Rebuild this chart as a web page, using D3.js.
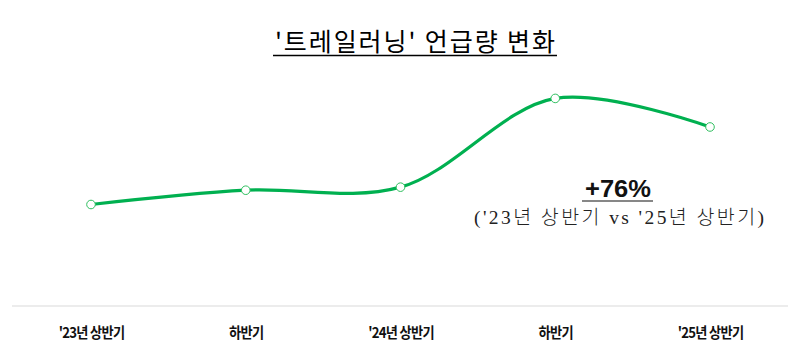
<!DOCTYPE html>
<html>
<head>
<meta charset="utf-8">
<script src="https://cdn.jsdelivr.net/npm/d3@7/dist/d3.min.js"></script>
<style>
  html, body { margin: 0; padding: 0; background: #fff; }
  svg { display: block; }
</style>
</head>
<body>
<svg id="chart" width="805" height="349"></svg>
<script>
// Half-year periods and mention volume (index, '23 H1 = 100)
const periods = ["'23년 상반기", "하반기", "'24년 상반기", "하반기", "'25년 상반기"];
const mentions = [100, 114, 117, 204, 176];
const titleText = "'트레일러닝' 언급량 변화";
const changeText = "+76%";
const changeNote = "('23년 상반기 vs '25년 상반기)";

const W = 805, H = 349;
const svg = d3.select("#chart");
const krFont = "'Noto Sans CJK KR', 'Noto Sans', sans-serif";

const x = d3.scalePoint().domain(periods.map((d, i) => i)).range([91, 710]);
const y = d3.scaleLinear().domain([0, 100]).range([306.5, 204.5]);

// Title with underline
svg.append("text")
  .attr("x", 415).attr("y", 51)
  .attr("text-anchor", "middle")
  .attr("font-family", krFont)
  .attr("font-size", 25)
  .attr("fill", "#000")
  .attr("textLength", 280)
  .attr("lengthAdjust", "spacing")
  .text(titleText);
svg.append("line")
  .attr("x1", 273).attr("x2", 557)
  .attr("y1", 55.5).attr("y2", 55.5)
  .attr("stroke", "#000").attr("stroke-width", 1.3);

// Baseline
svg.append("line")
  .attr("x1", 12).attr("x2", 788)
  .attr("y1", 306).attr("y2", 306)
  .attr("stroke", "#d9d9d9").attr("stroke-width", 1.2);

// Category labels along the bottom (bold, slightly condensed)
const axis = d3.axisBottom(x).tickSize(0).tickFormat(i => periods[i]);
const gx = svg.append("g").attr("transform", "translate(0,324)").call(axis);
gx.select(".domain").remove();
gx.selectAll("text")
  .attr("font-family", krFont)
  .attr("font-size", 15)
  .attr("font-weight", 700)
  .attr("fill", "#111")
  .attr("letter-spacing", -0.8)
  .attr("transform", "scale(0.88,1)");

// Trend line
const line = d3.line()
  .x((d, i) => x(i))
  .y(d => y(d))
  .curve(d3.curveCatmullRom.alpha(0.5));
svg.append("path")
  .datum(mentions)
  .attr("d", line)
  .attr("fill", "none")
  .attr("stroke", "#00b050")
  .attr("stroke-width", 3.2)
  .attr("stroke-linecap", "round");

svg.selectAll("circle.pt")
  .data(mentions)
  .join("circle")
  .attr("class", "pt")
  .attr("cx", (d, i) => x(i))
  .attr("cy", d => y(d))
  .attr("r", 4.3)
  .attr("fill", "#fff")
  .attr("stroke", "#2fbf5f")
  .attr("stroke-width", 1);

// Change annotation
svg.append("text")
  .attr("x", 618).attr("y", 197)
  .attr("text-anchor", "middle")
  .attr("font-family", "'Liberation Sans', Arial, sans-serif")
  .attr("font-size", 24)
  .attr("font-weight", 700)
  .attr("fill", "#111")
  .attr("textLength", 66)
  .attr("lengthAdjust", "spacingAndGlyphs")
  .text(changeText);
svg.append("line")
  .attr("x1", 582).attr("x2", 653)
  .attr("y1", 201).attr("y2", 201)
  .attr("stroke", "#111").attr("stroke-width", 1.2);

svg.append("text")
  .attr("x", 619).attr("y", 224)
  .attr("text-anchor", "middle")
  .attr("font-family", "'Liberation Serif', 'DejaVu Serif', 'Noto Sans CJK KR', serif")
  .attr("font-size", 19.5)
  .attr("font-weight", 300)
  .attr("fill", "#222")
  .attr("textLength", 290)
  .attr("lengthAdjust", "spacing")
  .text(changeNote);
</script>
</body>
</html>
